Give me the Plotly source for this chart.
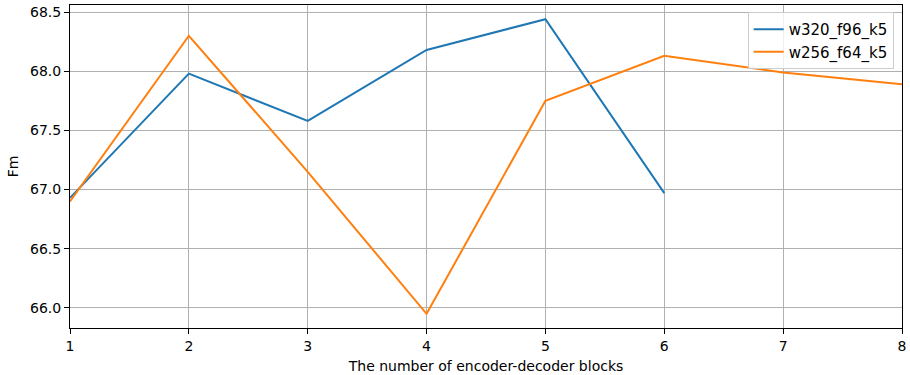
import plotly.graph_objects as go

blocks = [1, 2, 3, 4, 5, 6, 7, 8]
w320_x = [1, 2, 3, 4, 5, 6]
w320_fm = [66.93, 67.98, 67.58, 68.18, 68.44, 66.97]
w256_x = [1, 2, 3, 4, 5, 6, 7, 8]
w256_fm = [66.90, 68.30, 67.15, 65.95, 67.75, 68.13, 67.99, 67.89]
y_ticks = [66.0, 66.5, 67.0, 67.5, 68.0, 68.5]

FONT = "DejaVu Sans"

fig = go.Figure()
fig.add_trace(go.Scatter(x=w320_x, y=w320_fm, mode="lines", name="w320_f96_k5",
                         line=dict(color="#1f77b4", width=2)))
fig.add_trace(go.Scatter(x=w256_x, y=w256_fm, mode="lines", name="w256_f64_k5",
                         line=dict(color="#ff7f0e", width=2)))

axis_common = dict(
    showline=True, linecolor="#000000", linewidth=1, mirror=True,
    ticks="outside", ticklen=5, tickwidth=1, tickcolor="#000000",
    showgrid=True, gridcolor="#b0b0b0", gridwidth=1, zeroline=False,
    tickfont=dict(family=FONT, size=14, color="#000000"),
    automargin=False,
)

fig.update_layout(
    width=910, height=375,
    margin=dict(l=70, r=8, t=5, b=47),
    paper_bgcolor="white", plot_bgcolor="white",
    font=dict(family=FONT, size=14, color="#000000"),
    showlegend=True,
    legend=dict(x=0.990, y=0.978, xanchor="right", yanchor="top",
                bgcolor="rgba(255,255,255,0.8)", bordercolor="#cccccc", borderwidth=1,
                font=dict(family=FONT, size=15, color="#000000"),
                itemwidth=30),
    xaxis=dict(range=[1, 8], tickvals=blocks, ticktext=[str(b) for b in blocks],
               title=dict(text="The number of encoder-decoder blocks", standoff=8,
                          font=dict(family=FONT, size=14)),
               **axis_common),
    yaxis=dict(range=[65.83, 68.56], tickvals=y_ticks,
               ticktext=[f"{v:.1f}" for v in y_ticks],
               title=dict(text="Fm", standoff=8, font=dict(family=FONT, size=14)),
               **axis_common),
)

fig.write_html("out.html", config={"displayModeBar": False},
               post_script="document.body.style.margin='0';document.body.style.padding='0';")
